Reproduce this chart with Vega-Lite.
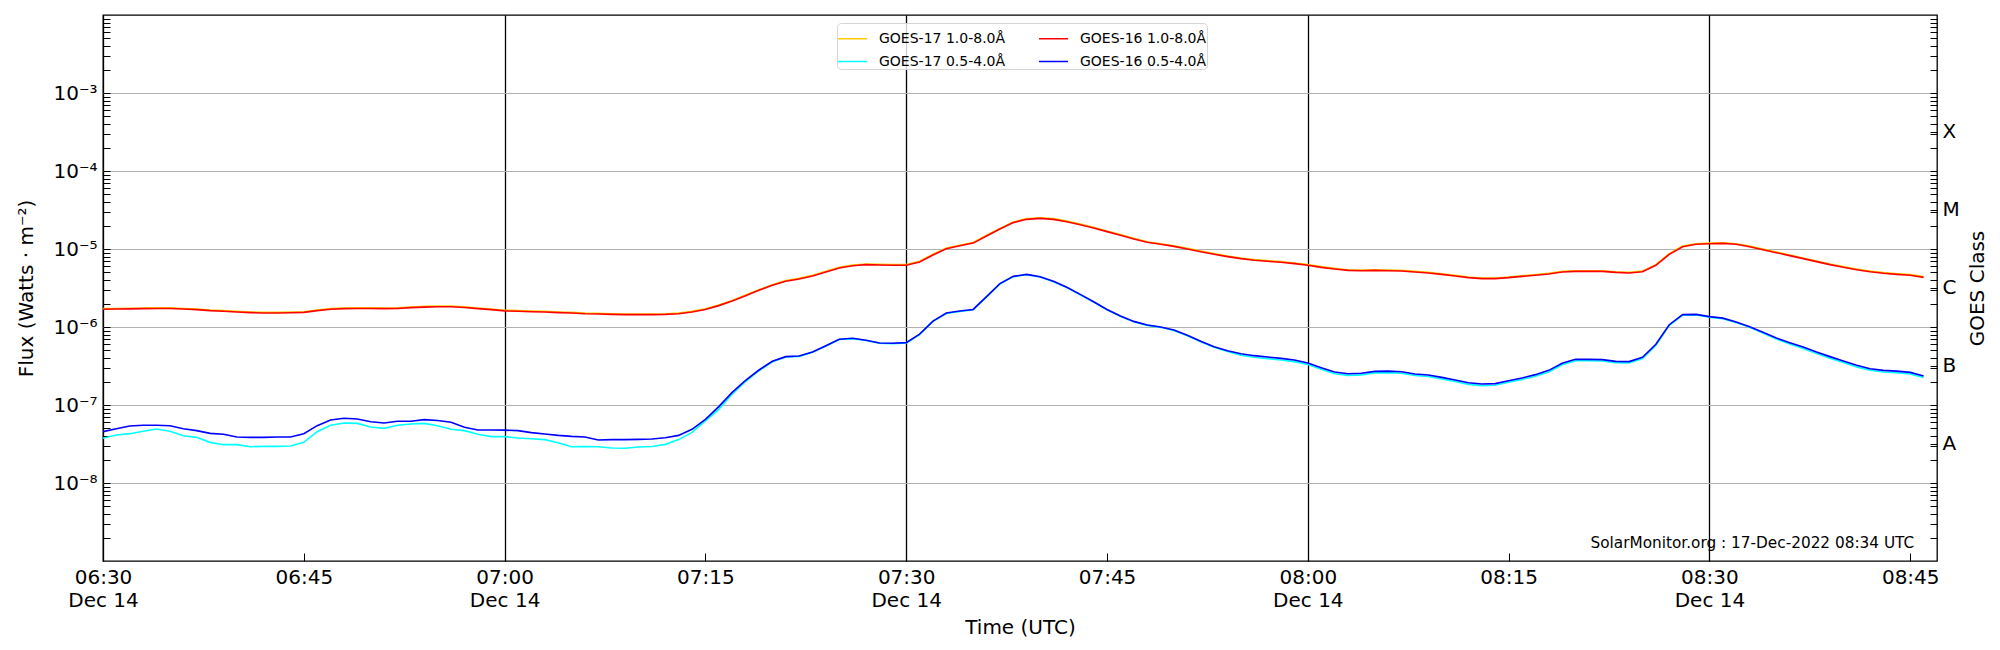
{
  "$schema": "https://vega.github.io/schema/vega-lite/v6.json",
  "width": 1834,
  "height": 546,
  "autosize": {"type": "none"},
  "padding": {"left": 103, "top": 15, "right": 63, "bottom": 89},
  "background": "white",
  "config": {
    "font": "DejaVu Sans",
    "view": {"stroke": "black", "strokeWidth": 1.3},
    "axis": {
      "labelFont": "DejaVu Sans", "titleFont": "DejaVu Sans",
      "labelColor": "black", "titleColor": "black",
      "labelFontSize": 20, "titleFontSize": 20, "titleFontWeight": "normal",
      "tickColor": "black", "domain": false, "labelOverlap": false, "labelFlush": false, "labelBound": false
    }
  },
  "data": {"values": [
    {"t":"2022-12-14T06:30:00Z","o":1.72e-6,"r":1.69e-6,"c":3.74e-8,"b":4.55e-8},
    {"t":"2022-12-14T06:31:00Z","o":1.73e-6,"r":1.70e-6,"c":4.12e-8,"b":4.97e-8},
    {"t":"2022-12-14T06:32:00Z","o":1.74e-6,"r":1.71e-6,"c":4.29e-8,"b":5.38e-8},
    {"t":"2022-12-14T06:33:00Z","o":1.75e-6,"r":1.72e-6,"c":4.60e-8,"b":5.49e-8},
    {"t":"2022-12-14T06:34:00Z","o":1.76e-6,"r":1.73e-6,"c":4.92e-8,"b":5.49e-8},
    {"t":"2022-12-14T06:35:00Z","o":1.76e-6,"r":1.73e-6,"c":4.60e-8,"b":5.43e-8},
    {"t":"2022-12-14T06:36:00Z","o":1.73e-6,"r":1.70e-6,"c":4.04e-8,"b":4.97e-8},
    {"t":"2022-12-14T06:37:00Z","o":1.70e-6,"r":1.67e-6,"c":3.85e-8,"b":4.69e-8},
    {"t":"2022-12-14T06:38:00Z","o":1.65e-6,"r":1.62e-6,"c":3.32e-8,"b":4.33e-8},
    {"t":"2022-12-14T06:39:00Z","o":1.62e-6,"r":1.59e-6,"c":3.10e-8,"b":4.21e-8},
    {"t":"2022-12-14T06:40:00Z","o":1.59e-6,"r":1.56e-6,"c":3.10e-8,"b":3.89e-8},
    {"t":"2022-12-14T06:41:00Z","o":1.56e-6,"r":1.53e-6,"c":2.92e-8,"b":3.85e-8},
    {"t":"2022-12-14T06:42:00Z","o":1.54e-6,"r":1.51e-6,"c":2.95e-8,"b":3.85e-8},
    {"t":"2022-12-14T06:43:00Z","o":1.54e-6,"r":1.51e-6,"c":2.95e-8,"b":3.89e-8},
    {"t":"2022-12-14T06:44:00Z","o":1.55e-6,"r":1.52e-6,"c":2.98e-8,"b":3.89e-8},
    {"t":"2022-12-14T06:45:00Z","o":1.57e-6,"r":1.54e-6,"c":3.32e-8,"b":4.29e-8},
    {"t":"2022-12-14T06:46:00Z","o":1.65e-6,"r":1.62e-6,"c":4.55e-8,"b":5.43e-8},
    {"t":"2022-12-14T06:47:00Z","o":1.72e-6,"r":1.69e-6,"c":5.49e-8,"b":6.42e-8},
    {"t":"2022-12-14T06:48:00Z","o":1.75e-6,"r":1.72e-6,"c":5.88e-8,"b":6.75e-8},
    {"t":"2022-12-14T06:49:00Z","o":1.76e-6,"r":1.73e-6,"c":5.81e-8,"b":6.62e-8},
    {"t":"2022-12-14T06:50:00Z","o":1.76e-6,"r":1.73e-6,"c":5.22e-8,"b":6.11e-8},
    {"t":"2022-12-14T06:51:00Z","o":1.75e-6,"r":1.72e-6,"c":5.02e-8,"b":5.88e-8},
    {"t":"2022-12-14T06:52:00Z","o":1.76e-6,"r":1.73e-6,"c":5.49e-8,"b":6.18e-8},
    {"t":"2022-12-14T06:53:00Z","o":1.80e-6,"r":1.77e-6,"c":5.70e-8,"b":6.18e-8},
    {"t":"2022-12-14T06:54:00Z","o":1.84e-6,"r":1.80e-6,"c":5.81e-8,"b":6.49e-8},
    {"t":"2022-12-14T06:55:00Z","o":1.86e-6,"r":1.82e-6,"c":5.43e-8,"b":6.34e-8},
    {"t":"2022-12-14T06:56:00Z","o":1.86e-6,"r":1.82e-6,"c":4.88e-8,"b":6.00e-8},
    {"t":"2022-12-14T06:57:00Z","o":1.82e-6,"r":1.78e-6,"c":4.69e-8,"b":5.17e-8},
    {"t":"2022-12-14T06:58:00Z","o":1.75e-6,"r":1.72e-6,"c":4.21e-8,"b":4.78e-8},
    {"t":"2022-12-14T06:59:00Z","o":1.70e-6,"r":1.67e-6,"c":3.93e-8,"b":4.78e-8},
    {"t":"2022-12-14T07:00:00Z","o":1.64e-6,"r":1.61e-6,"c":3.93e-8,"b":4.76e-8},
    {"t":"2022-12-14T07:01:00Z","o":1.62e-6,"r":1.59e-6,"c":3.78e-8,"b":4.69e-8},
    {"t":"2022-12-14T07:02:00Z","o":1.60e-6,"r":1.57e-6,"c":3.70e-8,"b":4.42e-8},
    {"t":"2022-12-14T07:03:00Z","o":1.59e-6,"r":1.56e-6,"c":3.60e-8,"b":4.25e-8},
    {"t":"2022-12-14T07:04:00Z","o":1.56e-6,"r":1.53e-6,"c":3.29e-8,"b":4.08e-8},
    {"t":"2022-12-14T07:05:00Z","o":1.54e-6,"r":1.51e-6,"c":2.92e-8,"b":3.96e-8},
    {"t":"2022-12-14T07:06:00Z","o":1.51e-6,"r":1.48e-6,"c":2.94e-8,"b":3.89e-8},
    {"t":"2022-12-14T07:07:00Z","o":1.50e-6,"r":1.47e-6,"c":2.92e-8,"b":3.56e-8},
    {"t":"2022-12-14T07:08:00Z","o":1.48e-6,"r":1.45e-6,"c":2.81e-8,"b":3.60e-8},
    {"t":"2022-12-14T07:09:00Z","o":1.47e-6,"r":1.44e-6,"c":2.79e-8,"b":3.60e-8},
    {"t":"2022-12-14T07:10:00Z","o":1.47e-6,"r":1.44e-6,"c":2.90e-8,"b":3.63e-8},
    {"t":"2022-12-14T07:11:00Z","o":1.47e-6,"r":1.44e-6,"c":2.94e-8,"b":3.66e-8},
    {"t":"2022-12-14T07:12:00Z","o":1.48e-6,"r":1.45e-6,"c":3.13e-8,"b":3.81e-8},
    {"t":"2022-12-14T07:13:00Z","o":1.51e-6,"r":1.48e-6,"c":3.60e-8,"b":4.08e-8},
    {"t":"2022-12-14T07:14:00Z","o":1.59e-6,"r":1.56e-6,"c":4.46e-8,"b":4.88e-8},
    {"t":"2022-12-14T07:15:00Z","o":1.71e-6,"r":1.68e-6,"c":6.24e-8,"b":6.55e-8},
    {"t":"2022-12-14T07:16:00Z","o":1.92e-6,"r":1.88e-6,"c":8.80e-8,"b":9.52e-8},
    {"t":"2022-12-14T07:17:00Z","o":2.19e-6,"r":2.15e-6,"c":1.38e-7,"b":1.45e-7},
    {"t":"2022-12-14T07:18:00Z","o":2.57e-6,"r":2.52e-6,"c":2.00e-7,"b":2.07e-7},
    {"t":"2022-12-14T07:19:00Z","o":3.01e-6,"r":2.95e-6,"c":2.75e-7,"b":2.81e-7},
    {"t":"2022-12-14T07:20:00Z","o":3.49e-6,"r":3.42e-6,"c":3.58e-7,"b":3.63e-7},
    {"t":"2022-12-14T07:21:00Z","o":3.93e-6,"r":3.85e-6,"c":4.12e-7,"b":4.17e-7},
    {"t":"2022-12-14T07:22:00Z","o":4.20e-6,"r":4.12e-6,"c":4.20e-7,"b":4.25e-7},
    {"t":"2022-12-14T07:23:00Z","o":4.60e-6,"r":4.51e-6,"c":4.73e-7,"b":4.78e-7},
    {"t":"2022-12-14T07:24:00Z","o":5.17e-6,"r":5.07e-6,"c":5.70e-7,"b":5.76e-7},
    {"t":"2022-12-14T07:25:00Z","o":5.81e-6,"r":5.70e-6,"c":6.90e-7,"b":6.95e-7},
    {"t":"2022-12-14T07:26:00Z","o":6.23e-6,"r":6.11e-6,"c":7.10e-7,"b":7.16e-7},
    {"t":"2022-12-14T07:27:00Z","o":6.43e-6,"r":6.30e-6,"c":6.70e-7,"b":6.75e-7},
    {"t":"2022-12-14T07:28:00Z","o":6.36e-6,"r":6.24e-6,"c":6.20e-7,"b":6.24e-7},
    {"t":"2022-12-14T07:29:00Z","o":6.30e-6,"r":6.18e-6,"c":6.13e-7,"b":6.18e-7},
    {"t":"2022-12-14T07:30:00Z","o":6.30e-6,"r":6.18e-6,"c":6.25e-7,"b":6.30e-7},
    {"t":"2022-12-14T07:31:00Z","o":6.95e-6,"r":6.81e-6,"c":8.00e-7,"b":8.10e-7},
    {"t":"2022-12-14T07:32:00Z","o":8.55e-6,"r":8.38e-6,"c":1.18e-6,"b":1.19e-6},
    {"t":"2022-12-14T07:33:00Z","o":1.03e-5,"r":1.01e-5,"c":1.49e-6,"b":1.51e-6},
    {"t":"2022-12-14T07:34:00Z","o":1.12e-5,"r":1.10e-5,"c":1.58e-6,"b":1.60e-6},
    {"t":"2022-12-14T07:35:00Z","o":1.21e-5,"r":1.19e-5,"c":1.66e-6,"b":1.68e-6},
    {"t":"2022-12-14T07:36:00Z","o":1.50e-5,"r":1.47e-5,"c":2.43e-6,"b":2.45e-6},
    {"t":"2022-12-14T07:37:00Z","o":1.84e-5,"r":1.80e-5,"c":3.56e-6,"b":3.60e-6},
    {"t":"2022-12-14T07:38:00Z","o":2.22e-5,"r":2.18e-5,"c":4.42e-6,"b":4.46e-6},
    {"t":"2022-12-14T07:39:00Z","o":2.45e-5,"r":2.40e-5,"c":4.68e-6,"b":4.73e-6},
    {"t":"2022-12-14T07:40:00Z","o":2.52e-5,"r":2.47e-5,"c":4.38e-6,"b":4.42e-6},
    {"t":"2022-12-14T07:41:00Z","o":2.45e-5,"r":2.40e-5,"c":3.81e-6,"b":3.85e-6},
    {"t":"2022-12-14T07:42:00Z","o":2.28e-5,"r":2.24e-5,"c":3.20e-6,"b":3.23e-6},
    {"t":"2022-12-14T07:43:00Z","o":2.09e-5,"r":2.05e-5,"c":2.59e-6,"b":2.62e-6},
    {"t":"2022-12-14T07:44:00Z","o":1.90e-5,"r":1.86e-5,"c":2.09e-6,"b":2.11e-6},
    {"t":"2022-12-14T07:45:00Z","o":1.70e-5,"r":1.67e-5,"c":1.66e-6,"b":1.68e-6},
    {"t":"2022-12-14T07:46:00Z","o":1.53e-5,"r":1.50e-5,"c":1.37e-6,"b":1.38e-6},
    {"t":"2022-12-14T07:47:00Z","o":1.37e-5,"r":1.34e-5,"c":1.17e-6,"b":1.18e-6},
    {"t":"2022-12-14T07:48:00Z","o":1.24e-5,"r":1.22e-5,"c":1.05e-6,"b":1.06e-6},
    {"t":"2022-12-14T07:49:00Z","o":1.17e-5,"r":1.15e-5,"c":9.90e-7,"b":1.00e-6},
    {"t":"2022-12-14T07:50:00Z","o":1.10e-5,"r":1.08e-5,"c":9.00e-7,"b":9.15e-7},
    {"t":"2022-12-14T07:51:00Z","o":1.02e-5,"r":1.00e-5,"c":7.70e-7,"b":7.82e-7},
    {"t":"2022-12-14T07:52:00Z","o":9.42e-6,"r":9.24e-6,"c":6.45e-7,"b":6.55e-7},
    {"t":"2022-12-14T07:53:00Z","o":8.72e-6,"r":8.55e-6,"c":5.50e-7,"b":5.60e-7},
    {"t":"2022-12-14T07:54:00Z","o":8.14e-6,"r":7.98e-6,"c":4.85e-7,"b":4.97e-7},
    {"t":"2022-12-14T07:55:00Z","o":7.67e-6,"r":7.52e-6,"c":4.35e-7,"b":4.55e-7},
    {"t":"2022-12-14T07:56:00Z","o":7.30e-6,"r":7.16e-6,"c":4.10e-7,"b":4.29e-7},
    {"t":"2022-12-14T07:57:00Z","o":7.09e-6,"r":6.95e-6,"c":3.93e-7,"b":4.12e-7},
    {"t":"2022-12-14T07:58:00Z","o":6.89e-6,"r":6.75e-6,"c":3.78e-7,"b":3.96e-7},
    {"t":"2022-12-14T07:59:00Z","o":6.62e-6,"r":6.49e-6,"c":3.60e-7,"b":3.78e-7},
    {"t":"2022-12-14T08:00:00Z","o":6.30e-6,"r":6.18e-6,"c":3.30e-7,"b":3.45e-7},
    {"t":"2022-12-14T08:01:00Z","o":5.94e-6,"r":5.82e-6,"c":2.87e-7,"b":3.01e-7},
    {"t":"2022-12-14T08:02:00Z","o":5.65e-6,"r":5.54e-6,"c":2.52e-7,"b":2.65e-7},
    {"t":"2022-12-14T08:03:00Z","o":5.43e-6,"r":5.32e-6,"c":2.40e-7,"b":2.52e-7},
    {"t":"2022-12-14T08:04:00Z","o":5.38e-6,"r":5.27e-6,"c":2.43e-7,"b":2.55e-7},
    {"t":"2022-12-14T08:05:00Z","o":5.43e-6,"r":5.32e-6,"c":2.58e-7,"b":2.70e-7},
    {"t":"2022-12-14T08:06:00Z","o":5.38e-6,"r":5.27e-6,"c":2.60e-7,"b":2.72e-7},
    {"t":"2022-12-14T08:07:00Z","o":5.32e-6,"r":5.22e-6,"c":2.55e-7,"b":2.67e-7},
    {"t":"2022-12-14T08:08:00Z","o":5.17e-6,"r":5.07e-6,"c":2.39e-7,"b":2.50e-7},
    {"t":"2022-12-14T08:09:00Z","o":5.02e-6,"r":4.92e-6,"c":2.32e-7,"b":2.43e-7},
    {"t":"2022-12-14T08:10:00Z","o":4.82e-6,"r":4.73e-6,"c":2.16e-7,"b":2.26e-7},
    {"t":"2022-12-14T08:11:00Z","o":4.60e-6,"r":4.51e-6,"c":2.00e-7,"b":2.09e-7},
    {"t":"2022-12-14T08:12:00Z","o":4.38e-6,"r":4.29e-6,"c":1.84e-7,"b":1.93e-7},
    {"t":"2022-12-14T08:13:00Z","o":4.25e-6,"r":4.17e-6,"c":1.77e-7,"b":1.86e-7},
    {"t":"2022-12-14T08:14:00Z","o":4.25e-6,"r":4.17e-6,"c":1.79e-7,"b":1.88e-7},
    {"t":"2022-12-14T08:15:00Z","o":4.38e-6,"r":4.29e-6,"c":1.96e-7,"b":2.05e-7},
    {"t":"2022-12-14T08:16:00Z","o":4.55e-6,"r":4.46e-6,"c":2.12e-7,"b":2.22e-7},
    {"t":"2022-12-14T08:17:00Z","o":4.69e-6,"r":4.60e-6,"c":2.34e-7,"b":2.45e-7},
    {"t":"2022-12-14T08:18:00Z","o":4.88e-6,"r":4.78e-6,"c":2.65e-7,"b":2.78e-7},
    {"t":"2022-12-14T08:19:00Z","o":5.17e-6,"r":5.07e-6,"c":3.28e-7,"b":3.42e-7},
    {"t":"2022-12-14T08:20:00Z","o":5.27e-6,"r":5.17e-6,"c":3.70e-7,"b":3.85e-7},
    {"t":"2022-12-14T08:21:00Z","o":5.27e-6,"r":5.17e-6,"c":3.70e-7,"b":3.85e-7},
    {"t":"2022-12-14T08:22:00Z","o":5.27e-6,"r":5.17e-6,"c":3.67e-7,"b":3.82e-7},
    {"t":"2022-12-14T08:23:00Z","o":5.12e-6,"r":5.02e-6,"c":3.49e-7,"b":3.63e-7},
    {"t":"2022-12-14T08:24:00Z","o":5.02e-6,"r":4.92e-6,"c":3.46e-7,"b":3.60e-7},
    {"t":"2022-12-14T08:25:00Z","o":5.22e-6,"r":5.12e-6,"c":3.95e-7,"b":4.08e-7},
    {"t":"2022-12-14T08:26:00Z","o":6.30e-6,"r":6.18e-6,"c":5.85e-7,"b":6.00e-7},
    {"t":"2022-12-14T08:27:00Z","o":8.72e-6,"r":8.55e-6,"c":1.05e-6,"b":1.07e-6},
    {"t":"2022-12-14T08:28:00Z","o":1.09e-5,"r":1.07e-5,"c":1.42e-6,"b":1.44e-6},
    {"t":"2022-12-14T08:29:00Z","o":1.17e-5,"r":1.15e-5,"c":1.43e-6,"b":1.45e-6},
    {"t":"2022-12-14T08:30:00Z","o":1.19e-5,"r":1.17e-5,"c":1.34e-6,"b":1.36e-6},
    {"t":"2022-12-14T08:31:00Z","o":1.20e-5,"r":1.18e-5,"c":1.28e-6,"b":1.30e-6},
    {"t":"2022-12-14T08:32:00Z","o":1.17e-5,"r":1.15e-5,"c":1.14e-6,"b":1.16e-6},
    {"t":"2022-12-14T08:33:00Z","o":1.09e-5,"r":1.07e-5,"c":9.90e-7,"b":1.01e-6},
    {"t":"2022-12-14T08:34:00Z","o":1.00e-5,"r":9.80e-6,"c":8.35e-7,"b":8.55e-7},
    {"t":"2022-12-14T08:35:00Z","o":9.15e-6,"r":8.97e-6,"c":7.00e-7,"b":7.23e-7},
    {"t":"2022-12-14T08:36:00Z","o":8.38e-6,"r":8.22e-6,"c":6.05e-7,"b":6.30e-7},
    {"t":"2022-12-14T08:37:00Z","o":7.67e-6,"r":7.52e-6,"c":5.30e-7,"b":5.54e-7},
    {"t":"2022-12-14T08:38:00Z","o":7.03e-6,"r":6.89e-6,"c":4.57e-7,"b":4.78e-7},
    {"t":"2022-12-14T08:39:00Z","o":6.43e-6,"r":6.30e-6,"c":3.98e-7,"b":4.17e-7},
    {"t":"2022-12-14T08:40:00Z","o":5.94e-6,"r":5.82e-6,"c":3.50e-7,"b":3.66e-7},
    {"t":"2022-12-14T08:41:00Z","o":5.54e-6,"r":5.43e-6,"c":3.08e-7,"b":3.23e-7},
    {"t":"2022-12-14T08:42:00Z","o":5.22e-6,"r":5.12e-6,"c":2.79e-7,"b":2.92e-7},
    {"t":"2022-12-14T08:43:00Z","o":4.98e-6,"r":4.88e-6,"c":2.65e-7,"b":2.78e-7},
    {"t":"2022-12-14T08:44:00Z","o":4.82e-6,"r":4.73e-6,"c":2.60e-7,"b":2.72e-7},
    {"t":"2022-12-14T08:45:00Z","o":4.69e-6,"r":4.60e-6,"c":2.50e-7,"b":2.62e-7},
    {"t":"2022-12-14T08:46:00Z","o":4.42e-6,"r":4.33e-6,"c":2.25e-7,"b":2.35e-7}
  ]},
  "encoding": {
    "x": {
      "field": "t", "type": "temporal",
      "scale": {"type": "utc", "domain": [1670999400000, 1671007620000]},
      "axis": {
        "title": "Time (UTC)",
        "values": [1670999400000, 1671000300000, 1671001200000, 1671002100000, 1671003000000, 1671003900000, 1671004800000, 1671005700000, 1671006600000, 1671007500000],
        "labelExpr": "(utcFormat(datum.value, '%M') == '00' || utcFormat(datum.value, '%M') == '30') ? [utcFormat(datum.value, '%H:%M'), 'Dec 14'] : utcFormat(datum.value, '%H:%M')",
        "labelLineHeight": 23,
        "tickSize": -8, "tickWidth": 1,
        "labelPadding": 14,
        "titlePadding": 7,
        "grid": true, "gridColor": "black", "gridWidth": 1.3,
        "gridOpacity": {"condition": {"test": "utcFormat(datum.value, '%M') == '00' || utcFormat(datum.value, '%M') == '30'", "value": 1}, "value": 0}
      }
    }
  },
  "layer": [
    {
      "mark": {"type": "line", "strokeWidth": 1.6, "clip": true},
      "encoding": {
        "y": {
          "field": "o", "type": "quantitative",
          "scale": {"type": "log", "domain": [1e-9, 1e-2], "nice": false},
          "axis": {
            "orient": "left",
            "title": "Flux (Watts · m⁻²)",
            "values": [2e-9,3e-9,4e-9,5e-9,6e-9,7e-9,8e-9,9e-9,1e-8,2e-8,3e-8,4e-8,5e-8,6e-8,7e-8,8e-8,9e-8,1e-7,2e-7,3e-7,4e-7,5e-7,6e-7,7e-7,8e-7,9e-7,1e-6,2e-6,3e-6,4e-6,5e-6,6e-6,7e-6,8e-6,9e-6,1e-5,2e-5,3e-5,4e-5,5e-5,6e-5,7e-5,8e-5,9e-5,1e-4,2e-4,3e-4,4e-4,5e-4,6e-4,7e-4,8e-4,9e-4,1e-3,2e-3,3e-3,4e-3,5e-3,6e-3,7e-3,8e-3,9e-3],
            "labelExpr": "(abs(log(datum.value)/LN10 - round(log(datum.value)/LN10)) < 0.01 && round(log(datum.value)/LN10) >= -8 && round(log(datum.value)/LN10) <= -3) ? '10⁻' + ['⁰','¹','²','³','⁴','⁵','⁶','⁷','⁸','⁹'][-round(log(datum.value)/LN10)] : ''",
            "tickSize": -7, "tickWidth": 1,
            "labelPadding": 13,
            "titlePadding": 16,
            "grid": true, "gridColor": "#b0b0b0", "gridWidth": 1.2,
            "gridOpacity": {"condition": {"test": "abs(log(datum.value)/LN10 - round(log(datum.value)/LN10)) < 0.01", "value": 1}, "value": 0}
          }
        },
        "color": {
          "datum": "GOES-17 1.0-8.0Å", "type": "nominal",
          "scale": {
            "domain": ["GOES-17 1.0-8.0Å", "GOES-16 1.0-8.0Å", "GOES-17 0.5-4.0Å", "GOES-16 0.5-4.0Å"],
            "range": ["#ffc800", "#ff0000", "#00ffff", "#0000ff"]
          },
          "legend": {
            "orient": "none", "legendX": 734, "legendY": 8,
            "values": ["GOES-17 1.0-8.0Å", "GOES-17 0.5-4.0Å", "GOES-16 1.0-8.0Å", "GOES-16 0.5-4.0Å"],
            "title": null, "columns": 2,
            "symbolType": "stroke", "symbolSize": 841, "symbolStrokeWidth": 1.5,
            "labelFont": "DejaVu Sans", "labelFontSize": 14, "labelColor": "black",
            "labelOffset": 11, "columnPadding": 30, "rowPadding": -5,
            "padding": 0, "strokeColor": "#d6d6d6", "fillColor": "rgba(255,255,255,0.8)", "cornerRadius": 4
          }
        }
      }
    },
    {
      "mark": {"type": "line", "strokeWidth": 1.6, "clip": true},
      "encoding": {
        "y": {"field": "c", "type": "quantitative", "axis": null},
        "color": {"datum": "GOES-17 0.5-4.0Å", "type": "nominal"}
      }
    },
    {
      "mark": {"type": "line", "strokeWidth": 1.6, "clip": true},
      "encoding": {
        "y": {
          "field": "r", "type": "quantitative",
          "axis": {
            "orient": "right",
            "title": "GOES Class",
            "titleAngle": 270,
            "values": [2e-9,3e-9,4e-9,5e-9,6e-9,7e-9,8e-9,9e-9,1e-8,2e-8,3e-8,3.16228e-8,4e-8,5e-8,6e-8,7e-8,8e-8,9e-8,1e-7,2e-7,3e-7,3.16228e-7,4e-7,5e-7,6e-7,7e-7,8e-7,9e-7,1e-6,2e-6,3e-6,3.16228e-6,4e-6,5e-6,6e-6,7e-6,8e-6,9e-6,1e-5,2e-5,3e-5,3.16228e-5,4e-5,5e-5,6e-5,7e-5,8e-5,9e-5,1e-4,2e-4,3e-4,3.16228e-4,4e-4,5e-4,6e-4,7e-4,8e-4,9e-4,1e-3,2e-3,3e-3,4e-3,5e-3,6e-3,7e-3,8e-3,9e-3],
            "labelExpr": "abs(log(datum.value)/LN10 + 7.5) < 0.005 ? 'A' : abs(log(datum.value)/LN10 + 6.5) < 0.005 ? 'B' : abs(log(datum.value)/LN10 + 5.5) < 0.005 ? 'C' : abs(log(datum.value)/LN10 + 4.5) < 0.005 ? 'M' : abs(log(datum.value)/LN10 + 3.5) < 0.005 ? 'X' : ''",
            "tickSize": -7, "tickWidth": 1,
            "labelPadding": 12,
            "titlePadding": 28,
            "grid": false
          }
        },
        "color": {"datum": "GOES-16 1.0-8.0Å", "type": "nominal"}
      }
    },
    {
      "mark": {"type": "line", "strokeWidth": 1.6, "clip": true},
      "encoding": {
        "y": {"field": "b", "type": "quantitative", "axis": null},
        "color": {"datum": "GOES-16 0.5-4.0Å", "type": "nominal"}
      }
    },
    {
      "data": {"values": [{"t": "2022-12-14T08:45:18Z", "f": 1.7e-9, "label": "SolarMonitor.org : 17-Dec-2022 08:34 UTC"}]},
      "mark": {"type": "text", "align": "right", "baseline": "middle", "fontSize": 15.3, "font": "DejaVu Sans", "color": "black"},
      "encoding": {
        "y": {"field": "f", "type": "quantitative", "axis": null},
        "text": {"field": "label"}
      }
    }
  ],
  "resolve": {"axis": {"y": "independent"}}
}
